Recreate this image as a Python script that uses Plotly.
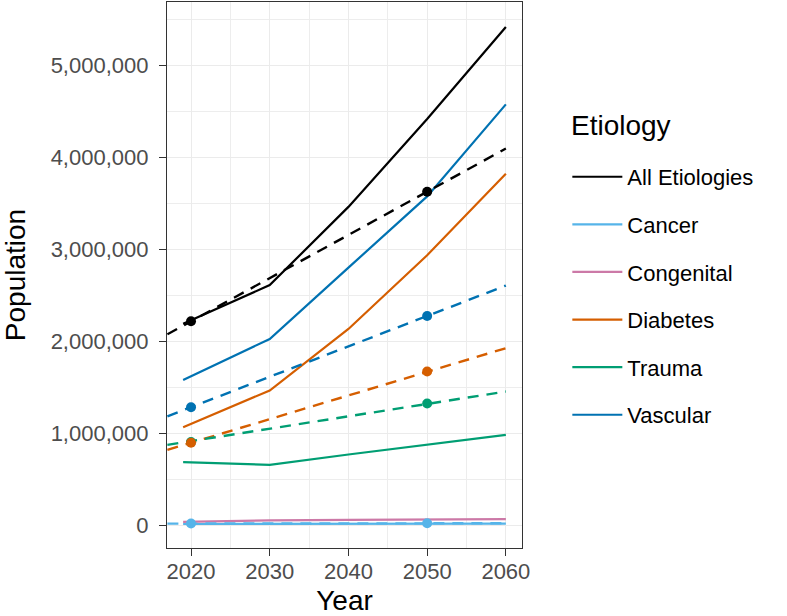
import plotly.graph_objects as go

# ---- data ----
etiologies = ["All Etiologies", "Cancer", "Congenital", "Diabetes", "Trauma", "Vascular"]
colors = ["#000000", "#56B4E9", "#CC79A7", "#D55E00", "#009E73", "#0072B2"]

years = [2019, 2030, 2040, 2050, 2060]
all_etiologies = [2190000, 2610000, 3460000, 4415000, 5415000]
cancer = [15000, 16000, 17000, 18000, 19000]
congenital = [38000, 55000, 60000, 64000, 68000]
diabetes = [1067000, 1465000, 2134000, 2935000, 3820000]
trauma = [687000, 658000, 770000, 879000, 984000]
vascular = [1580000, 2025000, 2800000, 3574000, 4574000]

point_years = [2020, 2050]
all_points = [2217000, 3625000]
cancer_points = [20000, 22000]
diabetes_points = [897000, 1671000]
trauma_points = [905000, 1324000]
vascular_points = [1284000, 2275000]

trend_years = [2017, 2060]
all_trend = [2076000, 4094000]
cancer_trend = [19000, 23000]
diabetes_trend = [820000, 1925000]
trauma_trend = [875000, 1454000]
vascular_trend = [1185000, 2605000]

solid = {"All Etiologies": all_etiologies, "Cancer": cancer, "Congenital": congenital,
         "Diabetes": diabetes, "Trauma": trauma, "Vascular": vascular}
points = {"All Etiologies": all_points, "Cancer": cancer_points, "Diabetes": diabetes_points,
          "Trauma": trauma_points, "Vascular": vascular_points}
trends = {"All Etiologies": all_trend, "Cancer": cancer_trend, "Diabetes": diabetes_trend,
          "Trauma": trauma_trend, "Vascular": vascular_trend}
point_order = ["All Etiologies", "Cancer", "Trauma", "Vascular", "Diabetes"]

x_ticks = [2020, 2030, 2040, 2050, 2060]
y_ticks = [0, 1000000, 2000000, 3000000, 4000000, 5000000]

FONT = "Liberation Sans, Arial, Helvetica, sans-serif"
color_of = dict(zip(etiologies, colors))

fig = go.Figure()
for name in etiologies:
    fig.add_trace(go.Scatter(x=years, y=solid[name], mode="lines", name=name,
                             legendgroup=name, line=dict(color=color_of[name], width=2.2)))
for name in etiologies:
    if name in trends:
        fig.add_trace(go.Scatter(x=trend_years, y=trends[name], mode="lines",
                                 legendgroup=name, showlegend=False,
                                 line=dict(color=color_of[name], width=2.4, dash="11px,8px")))
for name in point_order:
    fig.add_trace(go.Scatter(x=point_years, y=points[name], mode="markers",
                             legendgroup=name, showlegend=False,
                             marker=dict(color=color_of[name], size=10)))

axis_common = dict(
    showgrid=True, gridcolor="#EBEBEB", gridwidth=1.2,
    showline=True, linecolor="#333333", linewidth=1.2, mirror=True,
    ticks="outside", ticklen=7, tickwidth=1.2, tickcolor="#333333",
    tickfont=dict(family=FONT, size=22, color="#4D4D4D"),
    zeroline=False,
)

fig.update_xaxes(**axis_common, range=[2016.95, 2062.05], tickvals=x_ticks,
                 minor=dict(dtick=5, tick0=2015, showgrid=True, gridcolor="#EDEDED", gridwidth=0.7),
                 ticklabelstandoff=-4,
                 title=dict(text="Year", font=dict(family=FONT, size=28, color="#000000"), standoff=12))
fig.update_yaxes(**axis_common, range=[-246000, 5686000], tickvals=y_ticks, tickformat=",d",
                 minor=dict(dtick=500000, tick0=0, showgrid=True, gridcolor="#EDEDED", gridwidth=0.7),
                 ticklabelstandoff=6,
                 title=dict(text="Population", font=dict(family=FONT, size=28, color="#000000"), standoff=20))

fig.add_annotation(text="Etiology", xref="paper", yref="paper",
                   x=(570 - 167) / 355.6, y=(549 - 125) / 548, xanchor="left", yanchor="middle",
                   showarrow=False, font=dict(family=FONT, size=28, color="#000000"))

fig.update_layout(
    width=787, height=616,
    margin=dict(l=167, r=265, t=1, b=67),
    paper_bgcolor="white", plot_bgcolor="white",
    font=dict(family=FONT),
    legend=dict(
        font=dict(family=FONT, size=22, color="#000000"),
        x=1.1277, xanchor="left", y=0.718, yanchor="top",
        itemwidth=50, tracegroupgap=16, bgcolor="rgba(0,0,0,0)",
    ),
)

fig.write_html("out.html", config={"displayModeBar": False},
               post_script="document.body.style.margin='0';")
